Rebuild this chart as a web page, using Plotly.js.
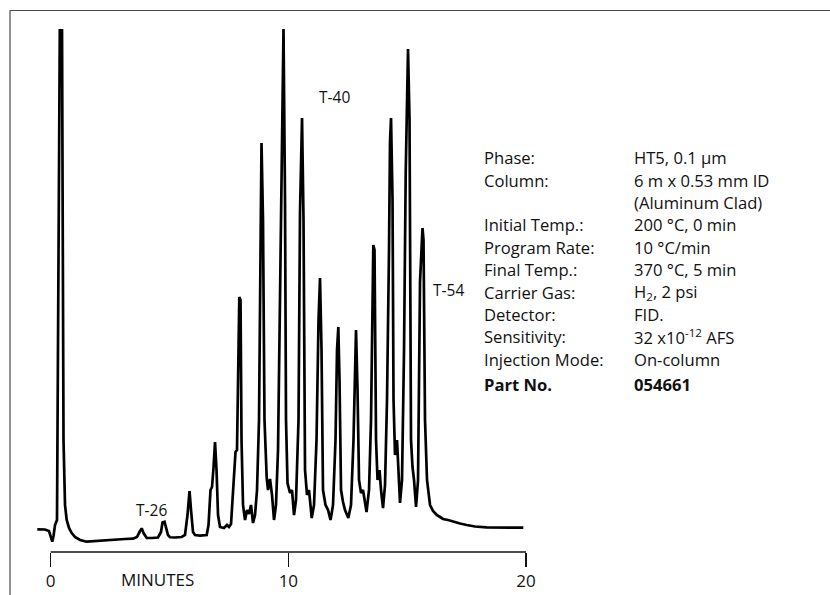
<!DOCTYPE html>
<html>
<head>
<meta charset="utf-8">
<script src="https://cdn.plot.ly/plotly-3.0.1.min.js"></script>
<style>html,body{margin:0;padding:0;background:#fff;}#chart{width:830px;height:595px;}</style>
</head>
<body>
<div id="chart"></div>
<script>
// Chromatogram trace: retention time (minutes) and detector signal (% of full scale)
const timeMin = [
 -0.564,-0.240,-0.072,0.013,0.067,0.118,0.181,0.265,0.383,0.476,0.539,0.602,0.673,0.770,0.884,1.023,1.233,1.515,1.864,2.285,
 2.706,3.126,3.463,3.631,3.737,3.829,3.905,4.040,4.263,4.515,4.641,4.704,4.789,4.852,4.936,5.020,5.230,5.512,5.651,5.756,
 5.841,5.904,5.988,6.072,6.282,6.564,6.640,6.724,6.787,6.850,6.914,6.977,7.040,7.124,7.292,7.419,7.503,7.587,7.671,7.776,
 7.839,7.936,7.987,8.029,8.092,8.176,8.260,8.344,8.428,8.513,8.597,8.681,8.765,8.807,8.870,8.933,8.996,9.089,9.144,9.228,
 9.312,9.396,9.480,9.565,9.649,9.691,9.796,9.859,9.901,9.964,10.070,10.154,10.238,10.322,10.427,10.490,10.575,10.638,10.701,10.785,
 10.869,10.983,11.080,11.185,11.269,11.332,11.395,11.458,11.563,11.669,11.774,11.879,11.984,12.047,12.102,12.152,12.216,12.300,12.384,12.523,
 12.636,12.741,12.805,12.847,12.910,12.973,13.057,13.141,13.289,13.394,13.478,13.575,13.625,13.689,13.752,13.836,13.899,13.983,14.067,14.151,
 14.235,14.277,14.320,14.383,14.425,14.488,14.572,14.635,14.698,14.782,14.867,14.938,15.035,15.098,15.119,15.161,15.224,15.288,15.372,15.456,
 15.540,15.645,15.687,15.750,15.834,15.961,16.087,16.243,16.381,16.508,16.718,16.929,17.223,17.505,17.854,18.346,18.906,19.887
];
const signal = [
 4.34,4.30,4.02,2.87,1.97,3.06,5.16,6.12,100,100,21.42,8.99,6.12,4.59,3.63,2.87,2.29,1.97,2.10,2.20,
 2.29,2.49,2.54,2.87,3.82,4.53,3.63,2.68,2.68,2.77,3.82,5.64,5.79,4.59,3.25,2.81,2.77,2.87,3.25,7.07,
 11.66,8.03,3.82,3.25,3.15,3.25,5.16,11.85,12.43,16.06,21.03,15.68,7.07,4.78,4.59,5.16,4.78,5.35,10.90,19.12,
 19.50,48.76,48.18,21.42,8.99,6.12,8.03,7.27,8.99,5.54,7.07,11.85,25.24,52.96,78.20,63.48,25.24,14.15,11.85,13.96,
 10.90,6.12,8.99,19.50,52.01,69.22,100,67.30,25.24,13.19,11.28,11.85,7.07,9.94,25.24,64.82,82.98,63.48,15.68,10.90,
 11.85,6.50,8.99,21.42,44.36,52.39,38.62,11.85,8.99,8.03,6.12,8.99,21.42,38.62,43.02,32.89,11.85,9.56,8.03,6.50,
 8.99,21.42,36.71,42.45,30.98,13.77,11.28,11.85,7.65,11.85,25.24,58.70,57.74,21.42,13.77,15.68,11.85,8.41,12.81,29.06,
 57.74,78.45,82.98,67.30,29.06,18.55,21.42,15.68,9.37,13.77,38.62,72.47,96.18,82.60,48.18,21.42,16.25,13.77,8.60,13.77,
 51.68,61.95,59.66,25.24,13.77,8.99,7.84,7.07,6.69,6.31,6.12,5.79,5.45,5.16,4.88,4.72,4.68,4.65
];

// Axis ticks
const tickValues = [0, 10, 20];
const tickLabels = ["0", "10", "20"];
const axisTitle = "MINUTES";

// Peak labels
const peakNames = ["T-26", "T-40", "T-54"];
const peakLabelTime = [4.26, 11.96, 16.72];
const peakLabelSignal = [8.03, 87.06, 50.10];

// Method conditions
const paramLabels = ["Phase:", "Column:", "", "Initial Temp.:", "Program Rate:", "Final Temp.:", "Carrier Gas:", "Detector:", "Sensitivity:", "Injection Mode:", "<b>Part No.</b>"];
const paramValues = ["HT5, 0.1 µm", "6 m x 0.53 mm ID", "(Aluminum Clad)", "200 °C, 0 min", "10 °C/min", "370 °C, 5 min", "H<sub>2</sub>, 2 psi", "FID.", "32 x10<sup>-12</sup> AFS", "On-column", "<b>054661</b>"];

const FONT = "'Open Sans', 'Noto Sans', sans-serif";
const TXT = "#111";

const annotations = [];
peakNames.forEach((n, i) => annotations.push({
  x: peakLabelTime[i], y: peakLabelSignal[i], xref: "x", yref: "y", text: n, showarrow: false,
  xanchor: "center", yanchor: "middle", font: {family: FONT, size: 15.5, color: TXT}
}));
annotations.push({x: 4.486, y: -0.0522, xref: "x", yref: "paper", text: axisTitle, showarrow: false,
  xanchor: "center", yanchor: "middle", font: {family: FONT, size: 17, color: TXT}});
const rowTop = 0.7539, rowStep = 0.04283;
paramLabels.forEach((lab, i) => {
  const y = rowTop - i * rowStep - (i === paramLabels.length - 1 ? 0.0045 : 0);
  if (lab) annotations.push({x: 0.5769, y: y, xref: "paper", yref: "paper", text: lab, showarrow: false,
    xanchor: "left", yanchor: "middle", font: {family: FONT, size: 16.6, color: TXT}});
  annotations.push({x: 0.765, y: y, xref: "paper", yref: "paper", text: paramValues[i], showarrow: false,
    xanchor: "left", yanchor: "middle", font: {family: FONT, size: 16.6, color: TXT}});
});

const shapes = [
  // frame (left and top edges)
  {type: "line", xref: "paper", yref: "paper", x0: -0.0125, x1: -0.0125, y0: -0.09, y1: 1.0354, line: {color: "#4a4a4a", width: 1.2}},
  {type: "line", xref: "paper", yref: "paper", x0: -0.0125, x1: 1.02, y0: 1.0354, y1: 1.0354, line: {color: "#4a4a4a", width: 1.2}},
  // time axis line from 0 to 20 min
  {type: "line", xref: "x", yref: "paper", x0: tickValues[0], x1: tickValues[tickValues.length - 1], y0: 0, y1: 0, line: {color: "#111", width: 1.3}}
];

const trace = {
  x: timeMin, y: signal, type: "scatter", mode: "lines",
  line: {color: "#000", width: 2.7, shape: "linear"}, hoverinfo: "skip"
};

const layout = {
  width: 830, height: 595,
  margin: {l: 20, r: 10, t: 29, b: 43, pad: 0},
  paper_bgcolor: "#fff", plot_bgcolor: "#fff",
  showlegend: false,
  xaxis: {
    range: [-1.292, 32.37], tickvals: tickValues, ticktext: tickLabels,
    ticks: "outside", ticklen: 14, tickwidth: 1.3, tickcolor: "#111",
    showline: false, zeroline: false, showgrid: false,
    tickfont: {family: FONT, size: 17, color: TXT}
  },
  yaxis: {range: [0, 100], visible: false, showgrid: false, zeroline: false},
  annotations: annotations,
  shapes: shapes
};

Plotly.newPlot("chart", [trace], layout, {staticPlot: true, displayModeBar: false});
</script>
</body>
</html>
